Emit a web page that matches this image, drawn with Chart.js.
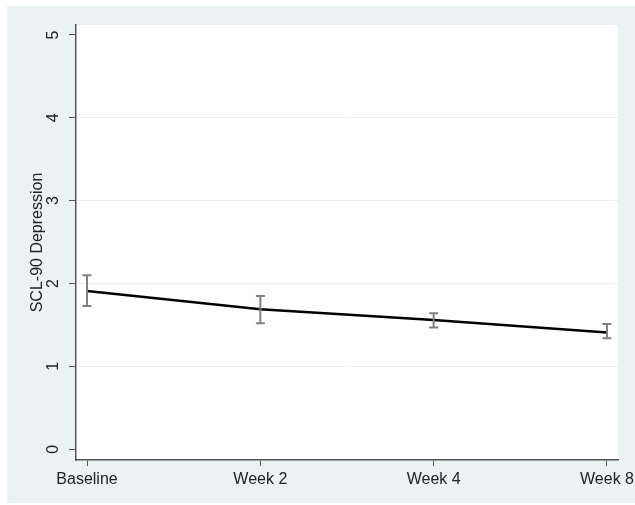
<!DOCTYPE html>
<html lang="en">
<head>
  <meta charset="UTF-8">
  <title>SCL-90 Depression</title>
  <script src="https://cdn.jsdelivr.net/npm/chart.js"></script>
  <style>
    body {
      margin: 0;
      background-color: #ffffff;
      font-family: "Liberation Sans", Arial, sans-serif;
    }
    .wrap {
      position: absolute;
      left: 7px;
      top: 6px;
      width: 628px;
      height: 497px;
    }
  </style>
</head>
<body>
  <div class="wrap">
    <canvas id="depChart"></canvas>
  </div>

  <script>
    // values
    const categories = ['Baseline', 'Week 2', 'Week 4', 'Week 8'];
    const means = [1.91, 1.69, 1.56, 1.41];
    const lower = [1.73, 1.52, 1.47, 1.34];
    const upper = [2.10, 1.85, 1.64, 1.51];
    const yTicks = [0, 1, 2, 3, 4, 5];

    const FONT = '"Liberation Sans", Arial, sans-serif';

    // white plot region on the light frame
    const plotBg = {
      id: 'plotBg',
      beforeDraw(chart) {
        const { ctx, chartArea: a } = chart;
        ctx.save();
        ctx.fillStyle = '#eaf2f3';
        ctx.fillRect(0, 0, chart.width, chart.height);
        ctx.fillStyle = '#ffffff';
        ctx.fillRect(a.left, a.top, a.right - a.left, a.bottom - a.top);
        ctx.restore();
      }
    };

    // vertical y tick labels + axis title (Stata style)
    const yLabels = {
      id: 'yLabels',
      afterDraw(chart) {
        const { ctx } = chart;
        const y = chart.scales.y;
        ctx.save();
        ctx.fillStyle = '#222';
        ctx.font = '16px ' + FONT;
        ctx.textAlign = 'center';
        ctx.textBaseline = 'middle';
        yTicks.forEach(v => {
          ctx.save();
          ctx.translate(47, y.getPixelForValue(v));
          ctx.rotate(-Math.PI / 2);
          ctx.fillText(String(v), 0, 0);
          ctx.restore();
        });
        ctx.translate(31, (chart.chartArea.top + chart.chartArea.bottom) / 2);
        ctx.rotate(-Math.PI / 2);
        ctx.fillText('SCL-90 Depression', 0, 0);
        ctx.restore();
      }
    };

    // error bars with caps
    const errorBars = {
      id: 'errorBars',
      afterDatasetsDraw(chart) {
        const { ctx } = chart;
        const xs = chart.scales.x, ys = chart.scales.y;
        ctx.save();
        ctx.strokeStyle = '#808080';
        ctx.lineWidth = 2;
        for (let i = 0; i < categories.length; i++) {
          const px = xs.getPixelForValue(i);
          const top = ys.getPixelForValue(upper[i]);
          const bot = ys.getPixelForValue(lower[i]);
          ctx.beginPath();
          ctx.moveTo(px, top); ctx.lineTo(px, bot);
          ctx.moveTo(px - 4.5, top); ctx.lineTo(px + 4.5, top);
          ctx.moveTo(px - 4.5, bot); ctx.lineTo(px + 4.5, bot);
          ctx.stroke();
        }
        ctx.restore();
      }
    };

    new Chart(document.getElementById('depChart'), {
      type: 'line',
      data: {
        datasets: [{
          data: means.map((m, i) => ({ x: i, y: m })),
          borderColor: '#000000',
          borderWidth: 2.5,
          pointRadius: 0,
          fill: false,
          tension: 0
        }]
      },
      options: {
        responsive: true,
        maintainAspectRatio: false,
        animation: false,
        layout: { padding: { left: 0, top: 19, right: 17, bottom: 0 } },
        plugins: {
          legend: { display: false },
          tooltip: { enabled: false }
        },
        scales: {
          x: {
            type: 'linear',
            min: -0.0635,
            max: 3.0635,
            afterBuildTicks: axis => { axis.ticks = categories.map((c, i) => ({ value: i })); },
            afterFit: axis => {
              axis.height = 43;
              axis.paddingLeft = 0;
              axis.paddingRight = 0;
            },
            border: { color: '#555555', width: 1.5 },
            grid: {
              color: 'rgba(0,0,0,0)',
              tickColor: '#555555',
              tickLength: 6,
              drawOnChartArea: false
            },
            ticks: {
              autoSkip: false,
              maxRotation: 0,
              padding: 4,
              color: '#222',
              font: { family: FONT, size: 16 },
              callback: v => categories[v]
            }
          },
          y: {
            min: -0.13,
            max: 5.12,
            afterBuildTicks: axis => { axis.ticks = yTicks.map(v => ({ value: v })); },
            afterFit: axis => {
              axis.width = 69;
              axis.paddingTop = 0;
              axis.paddingBottom = 0;
            },
            border: { color: '#555555', width: 1.5 },
            grid: {
              color: c => (c.tick && (c.tick.value === 0 || c.tick.value === 5)) ? 'rgba(0,0,0,0)' : '#eef0f0',
              tickColor: '#555555',
              tickLength: 7,
              lineWidth: 1
            },
            ticks: { display: false }
          }
        }
      },
      plugins: [plotBg, yLabels, errorBars]
    });
  </script>
</body>
</html>
